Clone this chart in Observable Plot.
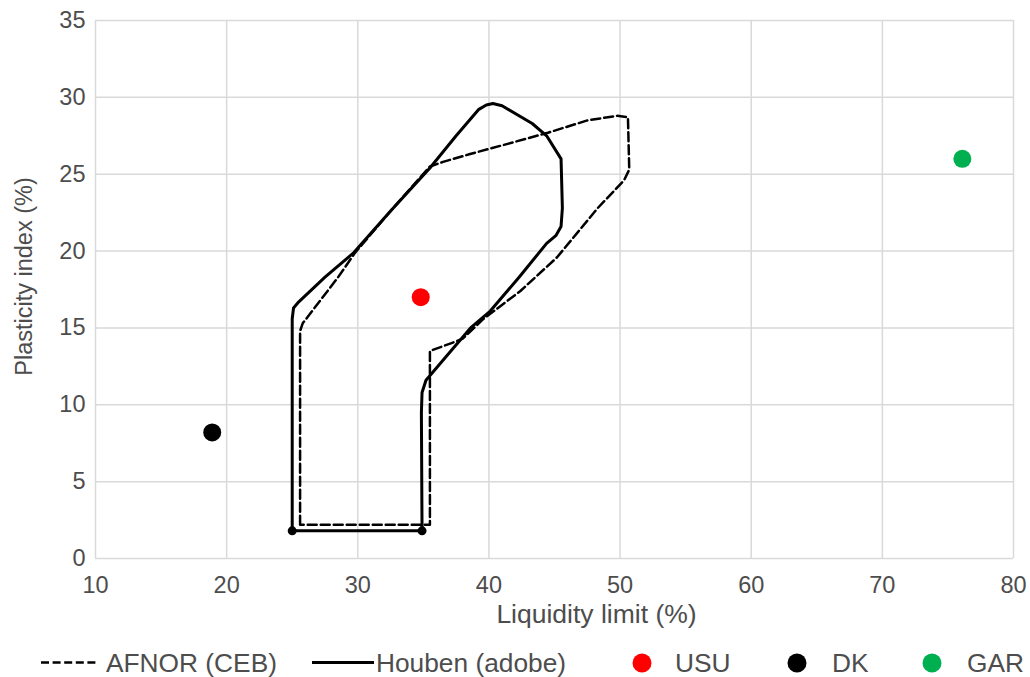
<!DOCTYPE html>
<html>
<head>
<meta charset="utf-8">
<script src="https://cdn.jsdelivr.net/npm/d3@7"></script>
<script src="https://cdn.jsdelivr.net/npm/@observablehq/plot@0.6"></script>
<style>
  html, body { margin: 0; padding: 0; background: #fff; }
  #chart svg { display: block; }
</style>
</head>
<body>
<div id="chart"></div>
<script>
// ---- Data ----
const afnorLL = [25.6, 25.6, 25.8, 28.5, 29.8, 32.5, 35.5, 36.5, 38.5, 41.1, 44.5, 47.5, 49.8, 50.6, 50.7, 50.3, 48.3, 45.2, 42.4, 39.6, 38.0, 37.1, 35.5, 35.5, 25.6];
const afnorPI = [2.2, 14.8, 15.3, 18.3, 19.9, 22.6, 25.5, 25.8, 26.3, 26.9, 27.7, 28.5, 28.8, 28.7, 25.3, 24.6, 22.8, 19.6, 17.4, 15.6, 14.3, 14.0, 13.5, 2.2, 2.2];

const houbenLL = [25.0, 25.0, 25.1, 25.5, 27.5, 29.7, 32.5, 35.5, 37.5, 39.2, 39.8, 40.3, 41.0, 43.3, 44.4, 45.5, 45.6, 45.5, 45.1, 44.4, 42.3, 40.1, 38.6, 37.0, 35.2, 34.9, 34.85, 34.9, 25.0];
const houbenPI = [1.8, 15.6, 16.3, 16.7, 18.3, 19.9, 22.6, 25.4, 27.5, 29.2, 29.5, 29.6, 29.45, 28.3, 27.5, 26.0, 22.8, 21.6, 21.0, 20.5, 18.3, 16.1, 15.0, 13.4, 11.6, 10.8, 9.5, 1.8, 1.8];

const endLL = [25.0, 34.9];
const endPI = [1.8, 1.8];

const pointNames = ["USU", "DK", "GAR"];
const pointLL = [34.8, 18.9, 76.1];
const pointPI = [17.0, 8.2, 26.0];
const pointColors = ["#ff0000", "#000000", "#00b050"];

const xTicks = [10, 20, 30, 40, 50, 60, 70, 80];
const yTicks = [0, 5, 10, 15, 20, 25, 30, 35];

const xTitle = "Liquidity limit (%)";
const yTitle = "Plasticity index (%)";
const legendLabels = ["AFNOR (CEB)", "Houben (adobe)", "USU", "DK", "GAR"];

// ---- Build tables ----
const afnor = afnorLL.map((x, i) => ({x, y: afnorPI[i]}));
const houben = houbenLL.map((x, i) => ({x, y: houbenPI[i]}));
const ends = endLL.map((x, i) => ({x, y: endPI[i]}));
const points = pointNames.map((name, i) => ({name, x: pointLL[i], y: pointPI[i], c: pointColors[i]}));

const FONT = "'Liberation Sans', Arial, sans-serif";
const TEXT = "#4d4d4d";

const plot = Plot.plot({
  width: 1030,
  height: 640,
  marginLeft: 95,
  marginRight: 17,
  marginTop: 20,
  marginBottom: 82,
  style: {fontFamily: FONT, fontSize: "24px", color: TEXT, background: "#fff"},
  x: {domain: [10, 80], ticks: xTicks},
  y: {domain: [0, 35], ticks: yTicks},
  marks: [
    Plot.gridX(xTicks, {stroke: "#d9d9d9", strokeOpacity: 1, strokeWidth: 1.5}),
    Plot.gridY(yTicks, {stroke: "#d9d9d9", strokeOpacity: 1, strokeWidth: 1.5}),
    Plot.axisX(xTicks, {tickSize: 0, tickPadding: 18, fill: TEXT, fontSize: 23.5, label: null}),
    Plot.axisY(yTicks, {tickSize: 0, tickPadding: 10, fill: TEXT, fontSize: 23.5, label: null}),
    Plot.text([xTitle], {frameAnchor: "bottom", lineAnchor: "middle", textAnchor: "middle", dx: 42, dy: 56, text: d => d, fill: TEXT, fontSize: 26.5}),
    Plot.text([yTitle], {frameAnchor: "left", lineAnchor: "middle", textAnchor: "middle", dx: -71, dy: -13, rotate: -90, text: d => d, fill: TEXT, fontSize: 23.5}),
    Plot.line(afnor, {x: "x", y: "y", stroke: "#000", strokeWidth: 2.5, strokeDasharray: "9,4", curve: "linear"}),
    Plot.line(houben, {x: "x", y: "y", stroke: "#000", strokeWidth: 3, curve: "linear", strokeLinejoin: "round"}),
    Plot.dot(ends, {x: "x", y: "y", r: 4.5, fill: "#000"}),
    Plot.dot(points, {x: "x", y: "y", r: 9, fill: "c", stroke: null})
  ]
});
document.getElementById("chart").appendChild(plot);

// ---- Legend below the chart ----
const leg = d3.select("#chart").append("svg")
  .attr("width", 1030).attr("height", 37)
  .style("font-family", FONT).style("font-size", "26.3px");
const cy = 22.5;
leg.append("line").attr("x1", 41).attr("x2", 99).attr("y1", cy).attr("y2", cy)
  .attr("stroke", "#000").attr("stroke-width", 2.5).attr("stroke-dasharray", "8,3.6");
leg.append("text").attr("x", 106).attr("y", cy).attr("dy", "0.36em").attr("fill", TEXT).text(legendLabels[0]);
leg.append("line").attr("x1", 312).attr("x2", 374).attr("y1", cy).attr("y2", cy)
  .attr("stroke", "#000").attr("stroke-width", 3);
leg.append("text").attr("x", 376).attr("y", cy).attr("dy", "0.36em").attr("fill", TEXT).text(legendLabels[1]);
const dotX = [642, 797, 932];
const txtX = [675, 832, 967];
points.forEach((p, i) => {
  leg.append("circle").attr("cx", dotX[i]).attr("cy", cy + 0.5).attr("r", 9.5).attr("fill", p.c);
  leg.append("text").attr("x", txtX[i]).attr("y", cy).attr("dy", "0.36em").attr("fill", TEXT).text(legendLabels[2 + i]);
});
</script>
</body>
</html>
